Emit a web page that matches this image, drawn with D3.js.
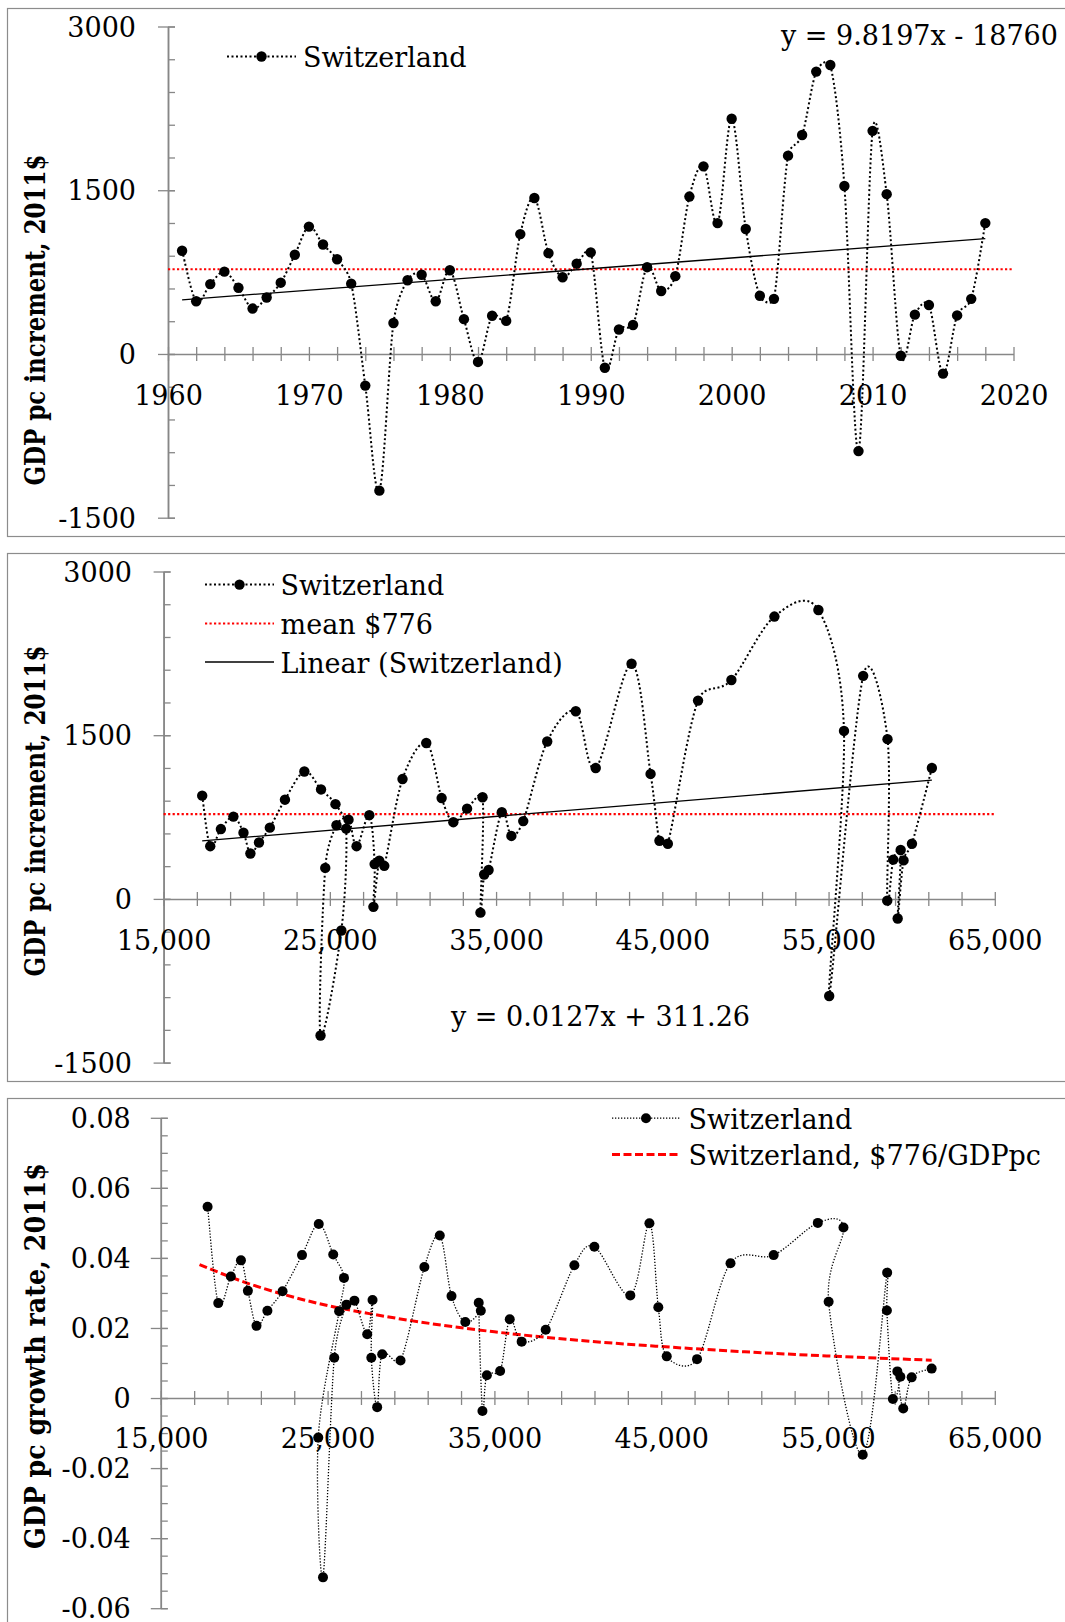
<!DOCTYPE html>
<html>
<head>
<meta charset="utf-8">
<script src="https://cdn.jsdelivr.net/npm/d3@7"></script>
<style>
  html, body { margin: 0; padding: 0; background: #fff; }
  svg { display: block; }
  text { font-family: "DejaVu Serif", "Liberation Serif", serif; fill: #000; }
</style>
</head>
<body>
<svg id="chart" width="1065" height="1622"></svg>
<script>
// ---- data -------------------------------------------------------------
const years = [1961,1962,1963,1964,1965,1966,1967,1968,1969,1970,
               1971,1972,1973,1974,1975,1976,1977,1978,1979,1980,
               1981,1982,1983,1984,1985,1986,1987,1988,1989,1990,
               1991,1992,1993,1994,1995,1996,1997,1998,1999,2000,
               2001,2002,2003,2004,2005,2006,2007,2008,2009,2010,
               2011,2012,2013,2014,2015,2016,2017,2018];

// annual increment of GDP per capita, 2011$
const increment = [946,483,640,754,606,416,517,653,909,1167,
                   1003,868,644,-290,-1252,284,675,726,483,767,
                   319,-73,350,303,1098,1429,924,703,827,931,
                   -126,224,265,795,577,713,1442,1719,1199,2155,
                   1145,533,505,1817,2006,2587,2647,1539,-890,2044,
                   1464,-16,360,448,-180,353,505,1199];

// GDP per capita level, 2011$
const gdpPc = [17322,17805,18445,19199,19805,20221,20738,21391,22300,23467,
               24470,25338,25982,25692,24440,24724,25399,26125,26608,27375,
               27694,27621,27971,28274,29372,30801,31725,32428,33255,34186,
               34060,34284,34549,35344,35921,36634,38076,39795,40994,43149,
               44294,44827,45332,47149,49155,51742,54389,55928,55038,57082,
               58546,58530,58890,59338,59158,59511,60016,61215];

// growth rate 1961-2017, shown against the following year's GDP per capita
const growthRate = [0.0546,0.0271,0.0347,0.0393,0.0306,0.0206,0.0249,0.0305,0.0408,0.0497,
                    0.0410,0.0343,0.0248,-0.0113,-0.0512,0.0115,0.0266,0.0278,0.0182,0.0280,
                    0.0115,-0.0026,0.0125,0.0107,0.0374,0.0464,0.0291,0.0217,0.0249,0.0272,
                    -0.0037,0.0065,0.0077,0.0225,0.0161,0.0195,0.0379,0.0432,0.0293,0.0499,
                    0.0259,0.0119,0.0111,0.0385,0.0408,0.0500,0.0487,0.0275,-0.0162,0.0358,
                    0.0250,-0.0003,0.0061,0.0076,-0.0030,0.0059,0.0084];
const growthGdpPc = gdpPc.slice(1);

// constant-increment curve in the growth-rate panel
const meanCurveGdp  = [17322,20000,22500,25000,27500,30000,35000,40000,45000,50000,55000,61215];
const meanCurveRate = [0.0381,0.0331,0.0294,0.0264,0.0241,0.0221,0.0189,0.0165,0.0147,0.0132,0.0120,0.0108];

const meanIncrement = 776;
const trendYear = [9.8197, -18760];   // slope, intercept
const trendGdp  = [0.0127, 311.26];   // slope, intercept

const yearTicks      = [1960,1970,1980,1990,2000,2010,2020];
const gdpTicks       = [15000,25000,35000,45000,55000,65000];
const incrementTicks = [3000,1500,0,-1500];
const growthTicks    = [0.08,0.06,0.04,0.02,0,-0.02,-0.04,-0.06];

// ---- drawing ----------------------------------------------------------
const svg = d3.select("#chart");
const AXIS = "#878787";
const FS = 27;

// Spreadsheet-style smoothed line: cubic Bezier segments whose handles follow
// the neighbouring points (1/6 of the chord) but never exceed half a segment.
function handle(p, a, b, seg, sign) {
  const dx = b[0] - a[0], dy = b[1] - a[1];
  const d = Math.hypot(dx, dy);
  if (d === 0) return p;
  const len = Math.min(d / 6, seg / 2);
  return [p[0] + sign * dx / d * len, p[1] + sign * dy / d * len];
}
function smoothCurve(context) {
  let pts = [];
  return {
    areaStart() {}, areaEnd() {},
    lineStart() { pts = []; },
    point(x, y) { pts.push([+x, +y]); },
    lineEnd() {
      const n = pts.length;
      if (!n) return;
      context.moveTo(pts[0][0], pts[0][1]);
      for (let i = 0; i < n - 1; i++) {
        const p0 = pts[Math.max(i - 1, 0)], p1 = pts[i], p2 = pts[i + 1], p3 = pts[Math.min(i + 2, n - 1)];
        const seg = Math.hypot(p2[0] - p1[0], p2[1] - p1[1]);
        const c1 = handle(p1, p0, p2, seg, 1);
        const c2 = handle(p2, p1, p3, seg, -1);
        context.bezierCurveTo(c1[0], c1[1], c2[0], c2[1], p2[0], p2[1]);
      }
    }
  };
}

function frame(y0, y1) {
  svg.append("rect")
    .attr("x", 7.5).attr("y", y0)
    .attr("width", 1200).attr("height", y1 - y0)
    .attr("fill", "none").attr("stroke", "#8c8c8c").attr("stroke-width", 1.2);
}

function styleAxis(g) {
  g.attr("font-family", null).attr("font-size", null);
  g.selectAll("path.domain").attr("stroke", AXIS).attr("stroke-width", 1.5);
  g.selectAll(".tick line").attr("stroke", AXIS).attr("stroke-width", 1.3);
  g.selectAll(".tick text").attr("font-size", FS).attr("fill", "#000");
}

// y axis: major ticks crossing the axis, minor ticks inside
function yAxis(x, y, majors, minorStep, fmt, labelGap) {
  const [lo, hi] = y.domain();
  const minors = d3.range(lo, hi + minorStep / 2, minorStep);
  const gMinor = svg.append("g").attr("transform", `translate(${x},0)`)
    .call(d3.axisRight(y).tickValues(minors).tickSize(7).tickSizeOuter(0).tickFormat(""));
  styleAxis(gMinor);
  const g = svg.append("g").attr("transform", `translate(${x},0)`)
    .call(d3.axisLeft(y).tickValues(majors).tickSizeOuter(0).tickFormat(fmt));
  styleAxis(g);
  g.selectAll(".tick line").attr("x1", 7).attr("x2", -10);
  g.selectAll(".tick text").attr("x", -labelGap).attr("dy", "0.36em");
}

// x axis: every tick crossing the axis, labels on the major values
function xAxis(x, yPos, step, majors, fmt, labelDrop) {
  const [lo, hi] = x.domain();
  const all = d3.range(lo, hi + step / 2, step);
  const g = svg.append("g").attr("transform", `translate(0,${yPos})`)
    .call(d3.axisBottom(x).tickValues(all).tickSizeOuter(0)
      .tickFormat(d => majors.includes(d) ? fmt(d) : ""));
  styleAxis(g);
  g.selectAll(".tick line").attr("y1", -7).attr("y2", 7);
  g.selectAll(".tick text").attr("y", labelDrop).attr("dy", 0);
}

function axisTitle(text, cx, cy, span) {
  svg.append("text")
    .attr("transform", `translate(${cx},${cy}) rotate(-90)`)
    .attr("text-anchor", "middle")
    .attr("font-size", 27).attr("font-weight", "bold")
    .attr("textLength", span).attr("lengthAdjust", "spacingAndGlyphs")
    .text(text);
}

function legendItem(x0, x1, y, textX, label, style) {
  svg.append("line").attr("x1", x0).attr("x2", x1).attr("y1", y).attr("y2", y)
    .attr("stroke", style.color).attr("stroke-width", style.width)
    .attr("stroke-dasharray", style.dash || null);
  if (style.marker) {
    svg.append("circle").attr("cx", (x0 + x1) / 2).attr("cy", y).attr("r", style.marker).attr("fill", "#000");
  }
  svg.append("text").attr("x", textX).attr("y", y + 10.5).attr("font-size", FS).text(label);
}

const fmtPlain = d => String(d);
const fmtComma = d3.format(",");
const fmtRate = d => d === 0 ? "0" : d.toFixed(2);

// ===== panel 1: increment by year =====
frame(8.5, 536.5);
const x1 = d3.scaleLinear().domain([1960, 2020]).range([168, 1013.5]);
const y1 = d3.scaleLinear().domain([-1500, 3000]).range([517.7, 26.5]);
yAxis(168, y1, incrementTicks, 300, fmtPlain, 32);
xAxis(x1, y1(0), 2, yearTicks, fmtPlain, 51.5);

svg.append("line")
  .attr("x1", x1(1960)).attr("x2", x1(2020))
  .attr("y1", y1(meanIncrement)).attr("y2", y1(meanIncrement))
  .attr("stroke", "#ff0000").attr("stroke-width", 2.2).attr("stroke-dasharray", "2.2,2.3");

svg.append("line")
  .attr("x1", x1(years[0])).attr("x2", x1(years[years.length - 1]))
  .attr("y1", y1(trendYear[0] * years[0] + trendYear[1]))
  .attr("y2", y1(trendYear[0] * years[years.length - 1] + trendYear[1]))
  .attr("stroke", "#000").attr("stroke-width", 1.3);

const p1 = years.map((yr, i) => [yr, increment[i]]);
svg.append("path").datum(p1)
  .attr("d", d3.line().x(d => x1(d[0])).y(d => y1(d[1])).curve(smoothCurve))
  .attr("fill", "none").attr("stroke", "#000").attr("stroke-width", 2)
  .attr("stroke-dasharray", "2,2.5");
svg.append("g").selectAll("circle").data(p1).join("circle")
  .attr("cx", d => x1(d[0])).attr("cy", d => y1(d[1])).attr("r", 5.2).attr("fill", "#000");

axisTitle("GDP pc increment, 2011$", 45, 320, 331);
legendItem(227, 296, 56.5, 303, "Switzerland", {color: "#000", width: 2, dash: "2,2.5", marker: 5.2});
svg.append("text").attr("x", 781).attr("y", 45).attr("font-size", FS)
  .text(`y = ${trendYear[0]}x - ${Math.abs(trendYear[1])}`);

// ===== panel 2: increment by GDP per capita =====
frame(553.5, 1081.5);
const x2 = d3.scaleLinear().domain([15000, 65000]).range([163.6, 994.8]);
const y2 = d3.scaleLinear().domain([-1500, 3000]).range([1062.6, 571.5]);
yAxis(163.6, y2, incrementTicks, 300, fmtPlain, 31.6);
xAxis(x2, y2(0), 2000, gdpTicks, fmtComma, 51);

svg.append("line")
  .attr("x1", x2(15000)).attr("x2", x2(65000))
  .attr("y1", y2(meanIncrement)).attr("y2", y2(meanIncrement))
  .attr("stroke", "#ff0000").attr("stroke-width", 2.2).attr("stroke-dasharray", "2.2,2.3");

const gMin = d3.min(gdpPc), gMax = d3.max(gdpPc);
svg.append("line")
  .attr("x1", x2(gMin)).attr("x2", x2(gMax))
  .attr("y1", y2(trendGdp[0] * gMin + trendGdp[1]))
  .attr("y2", y2(trendGdp[0] * gMax + trendGdp[1]))
  .attr("stroke", "#000").attr("stroke-width", 1.3);

const p2 = gdpPc.map((g, i) => [g, increment[i]]);
svg.append("path").datum(p2)
  .attr("d", d3.line().x(d => x2(d[0])).y(d => y2(d[1])).curve(smoothCurve))
  .attr("fill", "none").attr("stroke", "#000").attr("stroke-width", 2)
  .attr("stroke-dasharray", "2,2.5");
svg.append("g").selectAll("circle").data(p2).join("circle")
  .attr("cx", d => x2(d[0])).attr("cy", d => y2(d[1])).attr("r", 5.2).attr("fill", "#000");

axisTitle("GDP pc increment, 2011$", 45, 811, 331);
legendItem(205, 274, 584.6, 280.6, "Switzerland", {color: "#000", width: 2, dash: "2,2.5", marker: 5.2});
legendItem(205, 274, 623.5, 280.6, `mean $${meanIncrement}`, {color: "#ff0000", width: 2.2, dash: "2.2,2.3"});
legendItem(205, 274, 662, 280.6, "Linear (Switzerland)", {color: "#000", width: 1.3});
svg.append("text").attr("x", 451).attr("y", 1026).attr("font-size", FS)
  .text(`y = ${trendGdp[0]}x + ${trendGdp[1]}`);

// ===== panel 3: growth rate by GDP per capita =====
frame(1098.5, 1700);
const x3 = d3.scaleLinear().domain([15000, 65000]).range([160.8, 994.8]);
const y3 = d3.scaleLinear().domain([-0.06, 0.08]).range([1608.2, 1117.8]);
yAxis(160.8, y3, growthTicks, 0.005, fmtRate, 30);
xAxis(x3, y3(0), 2000, gdpTicks, fmtComma, 50);

const pc = meanCurveGdp.map((g, i) => [g, meanCurveRate[i]]);
svg.append("path").datum(pc)
  .attr("d", d3.line().x(d => x3(d[0])).y(d => y3(d[1])).curve(d3.curveMonotoneX))
  .attr("fill", "none").attr("stroke", "#ff0000").attr("stroke-width", 3)
  .attr("stroke-dasharray", "8,3.5");

const p3 = growthGdpPc.map((g, i) => [g, growthRate[i]]);
svg.append("path").datum(p3)
  .attr("d", d3.line().x(d => x3(d[0])).y(d => y3(d[1])).curve(smoothCurve))
  .attr("fill", "none").attr("stroke", "#000").attr("stroke-width", 1.3)
  .attr("stroke-dasharray", "1.3,1.7");
svg.append("g").selectAll("circle").data(p3).join("circle")
  .attr("cx", d => x3(d[0])).attr("cy", d => y3(d[1])).attr("r", 5).attr("fill", "#000");

axisTitle("GDP pc growth rate, 2011$", 45, 1356, 386);
legendItem(612, 680, 1118.2, 688.6, "Switzerland", {color: "#000", width: 1.3, dash: "1.3,1.7", marker: 5});
legendItem(612, 680, 1154.5, 688.6, `Switzerland, $${meanIncrement}/GDPpc`, {color: "#ff0000", width: 3, dash: "8,3.5"});
</script>
</body>
</html>
